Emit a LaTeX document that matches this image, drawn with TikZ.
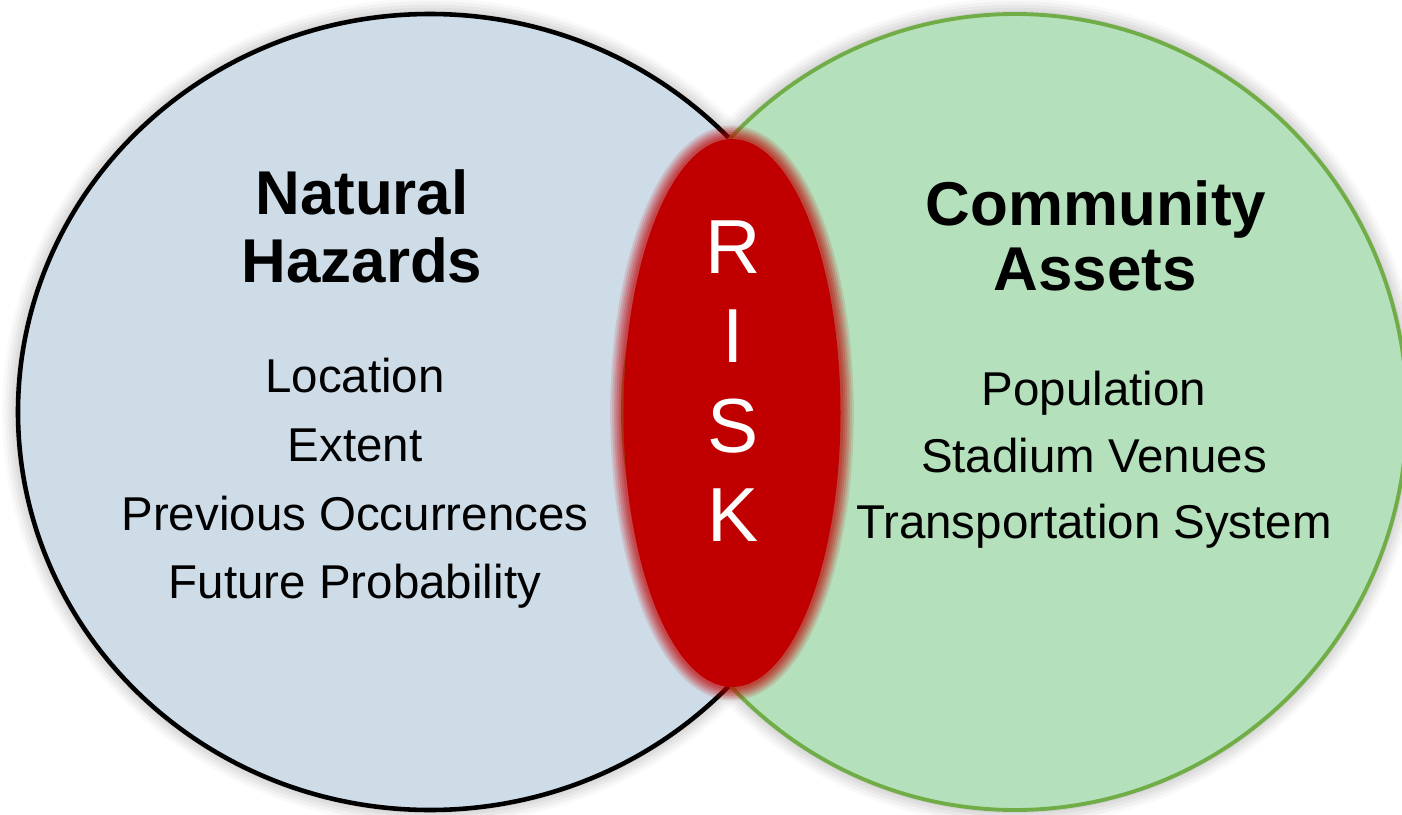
\documentclass[tikz,border=0pt]{standalone}
\usepackage{fontspec}
\setmainfont{Liberation Sans}
\definecolor{hazfill}{RGB}{206,220,232}
\definecolor{assfill}{RGB}{180,225,188}
\definecolor{assline}{RGB}{112,173,71}
\definecolor{riskred}{RGB}{192,0,0}
\begin{document}
\begin{tikzpicture}[x=0.01cm,y=0.01cm,
  head/.style={font=\fontsize{17.6}{21}\selectfont\bfseries, anchor=base, inner sep=0pt},
  item/.style={font=\fontsize{13.5}{16}\selectfont, anchor=base, inner sep=0pt},
  riskletter/.style={font=\fontsize{21.8}{26}\selectfont, text=white, anchor=base, inner sep=0pt},
  shadowring/.style={draw=black, draw opacity=#1},
  glowring/.style={draw=riskred, draw opacity=#1}]
\useasboundingbox (0,0) rectangle (1402,814);
\clip (0,0) rectangle (1402,814);
% soft shadows
\foreach \w/\o in {9pt/0.025, 7.2pt/0.03, 5.4pt/0.035, 3.6pt/0.04, 1.8pt/0.05}{
  \path[shadowring=\o, line width=\w] (430,402) ellipse [x radius=412, y radius=398];
  \path[shadowring=\o, line width=\w] (1015,402) ellipse [x radius=392, y radius=398];
}
% circles
\path[fill=hazfill, draw=black, line width=1.3pt] (430,402) ellipse [x radius=412, y radius=398];
\path[fill=assfill, draw=assline, line width=1.1pt] (1015,402) ellipse [x radius=392, y radius=398];
% red glow
\foreach \w/\o in {7.6pt/0.12, 6.4pt/0.14, 5.2pt/0.16, 4.0pt/0.18, 2.8pt/0.2, 1.6pt/0.22}{
  \path[glowring=\o, line width=\w] (732,401) ellipse [x radius=108.5, y radius=274];
}
\path[fill=riskred] (732,401) ellipse [x radius=108.5, y radius=274];
% texts
\node[head] (nat) at (362,600) {Natural};
\node[head] (haz) at (362,532) {Hazards};
\node[item] (loc) at (355,422) {Location};
\node[item] (ext) at (355,353) {Extent};
\node[item] (prev) at (355,284) {Previous Occurrences};
\node[item] (fut) at (355,216) {Future Probability};
\node[head] (com) at (1096,589) {Community};
\node[head] (ass) at (1095,524) {Assets};
\node[item] (pop) at (1094,409) {Population};
\node[item] (sta) at (1094,342) {Stadium Venues};
\node[item] (tra) at (1094,276) {Transportation System};
\node[riskletter] (rr) at (733,541) {R};
\node[riskletter] (ri) at (733,452) {I};
\node[riskletter] (rs) at (733,362) {S};
\node[riskletter] (rk) at (733,273) {K};
\end{tikzpicture}
\end{document}
